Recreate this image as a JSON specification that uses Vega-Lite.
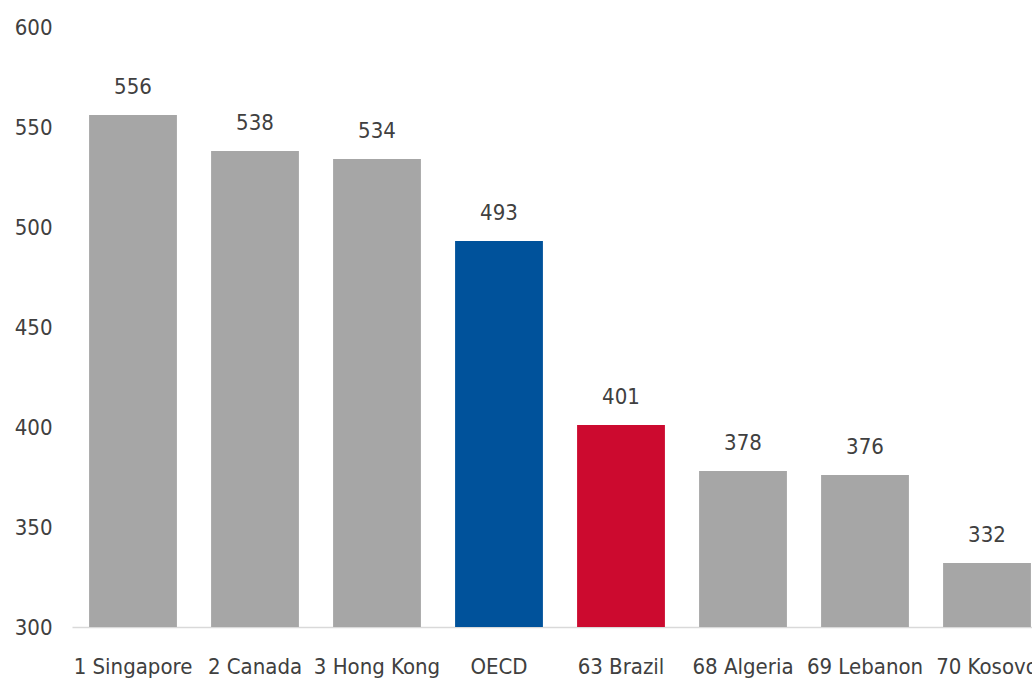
{
  "$schema": "https://vega.github.io/schema/vega-lite/v6.json",
  "autosize": "none",
  "width": 976,
  "height": 600,
  "padding": {"left": 72, "top": 27, "right": 0, "bottom": 54},
  "background": "white",
  "config": {"view": {"stroke": null}, "font": "DejaVu Sans Condensed, sans-serif"},
  "data": {"values": [
    {"country": "1 Singapore", "score": 556, "group": "other"},
    {"country": "2 Canada", "score": 538, "group": "other"},
    {"country": "3 Hong Kong", "score": 534, "group": "other"},
    {"country": "OECD", "score": 493, "group": "oecd"},
    {"country": "63 Brazil", "score": 401, "group": "brazil"},
    {"country": "68 Algeria", "score": 378, "group": "other"},
    {"country": "69 Lebanon", "score": 376, "group": "other"},
    {"country": "70 Kosovo", "score": 332, "group": "other"}
  ]},
  "encoding": {
    "x": {"field": "country", "type": "nominal", "sort": null,
      "scale": {"paddingInner": 0.28, "paddingOuter": 0.14},
      "axis": {"title": null, "labelAngle": 0, "ticks": false, "domainColor": "#D9D9D9", "domainWidth": 1.5,
        "labelFontSize": 22, "labelColor": "#404040", "labelPadding": 29, "labelFont": "DejaVu Sans Condensed, sans-serif"}},
    "y": {"field": "score", "type": "quantitative",
      "scale": {"domain": [300, 600], "nice": false, "zero": false},
      "axis": {"title": null, "values": [300, 350, 400, 450, 500, 550, 600], "grid": false, "domain": false, "ticks": false,
        "labelFontSize": 22, "labelColor": "#404040", "labelPadding": 20, "labelFont": "DejaVu Sans Condensed, sans-serif"}}
  },
  "layer": [
    {"mark": {"type": "bar", "clip": true},
     "encoding": {"color": {"field": "group", "type": "nominal",
       "scale": {"domain": ["other", "oecd", "brazil"], "range": ["#A6A6A6", "#00529B", "#CC0A2F"]}, "legend": null}}},
    {"mark": {"type": "text", "dy": -28, "fontSize": 22, "color": "#404040", "font": "DejaVu Sans Condensed, sans-serif"},
     "encoding": {"text": {"field": "score", "type": "quantitative"}}}
  ]
}
